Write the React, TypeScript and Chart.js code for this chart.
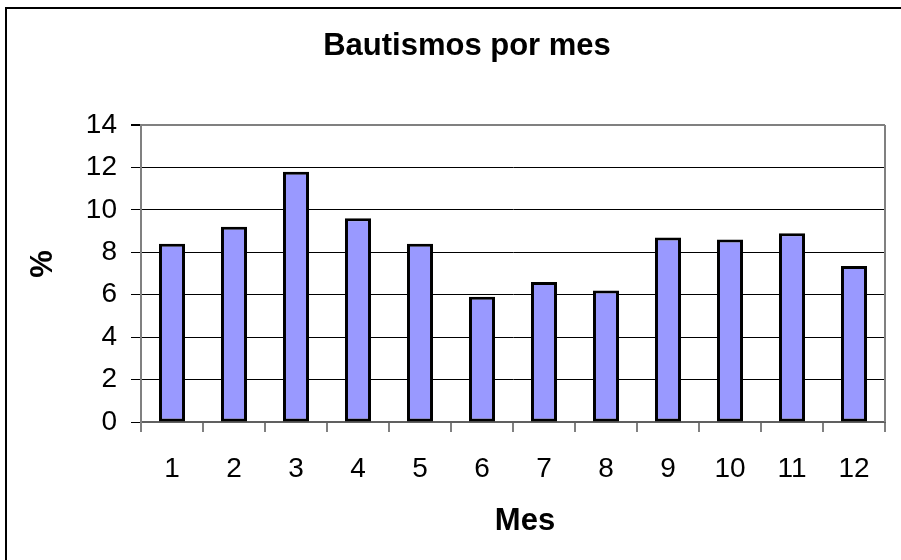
import React, { useEffect, useRef } from "react";
import { Chart, registerables } from "chart.js";

Chart.register(...registerables);

const months = ["1", "2", "3", "4", "5", "6", "7", "8", "9", "10", "11", "12"];
const percentages = [8.4, 9.2, 11.8, 9.6, 8.4, 5.9, 6.6, 6.2, 8.7, 8.6, 8.9, 7.35];
const chartTitle = "Bautismos por mes";
const xTitle = "Mes";
const yTitle = "%";

const decorPlugin = {
  id: "decor",
  beforeDraw(chart: any) {
    const ctx = chart.ctx;
    ctx.save();
    ctx.fillStyle = "#ffffff";
    ctx.fillRect(0, 0, chart.width, chart.height);
    ctx.restore();
  },
  afterDraw(chart: any) {
    const ctx = chart.ctx;
    const a = chart.chartArea;
    ctx.save();
    // outer frame (top and left)
    ctx.fillStyle = "#000000";
    ctx.fillRect(5, 7, chart.width, 2);
    ctx.fillRect(5, 7, 2, chart.height);
    // plot right border
    ctx.strokeStyle = "#808080";
    ctx.lineWidth = 2;
    ctx.beginPath();
    ctx.moveTo(a.right, a.top);
    ctx.lineTo(a.right, a.bottom);
    ctx.stroke();
    // titles
    ctx.fillStyle = "#000000";
    ctx.textAlign = "center";
    ctx.textBaseline = "alphabetic";
    ctx.font = "bold 31px 'Liberation Sans', Arial, sans-serif";
    ctx.fillText(chartTitle, 467, 55);
    ctx.fillText(xTitle, 525, 530);
    ctx.translate(52, 264);
    ctx.rotate(-Math.PI / 2);
    ctx.fillText(yTitle, 0, 0);
    ctx.restore();
  },
};

export default function App() {
  const ref = useRef<HTMLCanvasElement | null>(null);
  useEffect(() => {
    if (!ref.current) return;
    const chart = new Chart(ref.current, {
      type: "bar",
      data: {
        labels: months,
        datasets: [
          {
            data: percentages,
            backgroundColor: "#9999FF",
            borderColor: "#000000",
            borderWidth: 3,
            borderSkipped: false,
            barPercentage: 0.42,
            categoryPercentage: 1,
          },
        ],
      },
      options: {
        responsive: false,
        animation: false,
        layout: { padding: { left: 0, top: 125, right: 16, bottom: 0 } },
        plugins: {
          legend: { display: false },
          title: { display: false },
          tooltip: { enabled: false },
        },
        scales: {
          x: {
            offset: true,
            grid: {
              offset: true,
              drawOnChartArea: false,
              drawTicks: true,
              tickLength: 10,
              color: "#808080",
              lineWidth: 2,
            },
            border: { display: true, color: "#606060", width: 2 },
            ticks: {
              color: "#000000",
              padding: 20,
              font: { family: "'Liberation Sans', Arial, sans-serif", size: 28 },
              maxRotation: 0,
              autoSkip: false,
            },
            afterFit(scale: any) {
              scale.height = 560 - 422;
            },
          },
          y: {
            min: 0,
            max: 14,
            ticks: {
              stepSize: 2,
              color: "#000000",
              padding: 14,
              font: { family: "'Liberation Sans', Arial, sans-serif", size: 28 },
            },
            grid: {
              drawTicks: true,
              tickLength: 10,
              color: (c: any) => (c.tick && c.tick.value === 14 ? "#808080" : "#000000"),
              lineWidth: (c: any) => (c.tick && c.tick.value === 14 ? 2 : 1),
              tickColor: "#000000",
            },
            border: { display: true, color: "#808080", width: 2 },
            afterFit(scale: any) {
              scale.width = 141;
            },
          },
        },
      },
      plugins: [decorPlugin],
    });
    return () => chart.destroy();
  }, []);
  return (
    <div style={{ position: "fixed", left: 0, top: 0, width: 901, height: 560, background: "#fff" }}>
      <canvas ref={ref} width={901} height={560} style={{ display: "block" }} />
    </div>
  );
}
